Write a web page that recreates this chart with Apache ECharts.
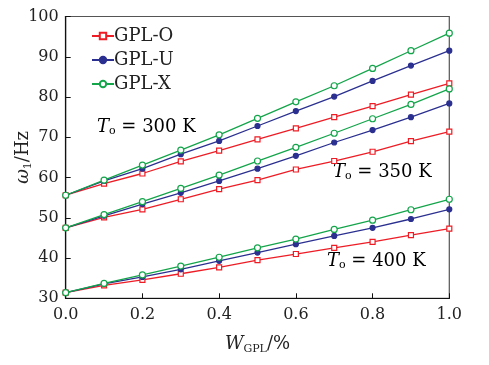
<!DOCTYPE html>
<html><head><meta charset="utf-8">
<script src="https://cdn.jsdelivr.net/npm/echarts@6/dist/echarts.min.js"></script>
<style>html,body{margin:0;padding:0;background:#fff}#c{width:489px;height:365px}</style>
</head><body><div id="c"></div>
<script>
var xValues = [0, 0.1, 0.2, 0.3, 0.4, 0.5, 0.6, 0.7, 0.8, 0.9, 1.0];
var seriesNames = ['GPL-O', 'GPL-U', 'GPL-X'];
// T = 300 K
var o300 = [55.6, 58.5, 61.0, 64.0, 66.7, 69.5, 72.2, 75.0, 77.75, 80.6, 83.4];
var u300 = [55.6, 59.15, 62.2, 65.8, 69.1, 72.8, 76.5, 80.1, 84.0, 87.8, 91.5];
var x300 = [55.6, 59.35, 63.1, 66.8, 70.6, 74.7, 78.8, 82.8, 87.1, 91.5, 95.85];
// T = 350 K
var o350 = [47.5, 50.1, 52.1, 54.6, 57.1, 59.35, 62.0, 64.1, 66.4, 69.05, 71.4];
var u350 = [47.5, 50.5, 53.4, 56.2, 59.15, 62.2, 65.4, 68.7, 71.8, 75.0, 78.4];
var x350 = [47.5, 50.8, 54.0, 57.3, 60.6, 64.1, 67.5, 71.0, 74.6, 78.15, 82.0];
// T = 400 K
var o400 = [31.4, 33.2, 34.6, 36.1, 37.7, 39.5, 41.0, 42.55, 44.0, 45.7, 47.3];
var u400 = [31.4, 33.6, 35.3, 37.2, 39.3, 41.35, 43.45, 45.5, 47.5, 49.7, 52.1];
var x400 = [31.4, 33.7, 35.8, 38.0, 40.2, 42.55, 44.7, 47.1, 49.4, 52.0, 54.6];
var xTicks = [0, 0.2, 0.4, 0.6, 0.8, 1.0];
var yTicks = [30, 40, 50, 60, 70, 80, 90, 100];

var FONT = 'DejaVu Serif';
var styles = {
  'GPL-O': {color: '#ee1c25', symbol: 'rect', size: 5, fill: '#fff'},
  'GPL-U': {color: '#2b3090', symbol: 'circle', size: 5, fill: '#2b3090'},
  'GPL-X': {color: '#14a54b', symbol: 'circle', size: 6, fill: '#fff'}
};
function pairs(arr){ return xValues.map(function(x,i){ return [x, arr[i]]; }); }
function mk(name, arr, showLegend){
  var s = styles[name];
  return {
    name: showLegend ? name : name + ' ',
    type: 'line', data: pairs(arr), symbol: s.symbol, symbolSize: s.size,
    lineStyle: {color: s.color, width: 1.3},
    itemStyle: {color: s.fill, borderColor: s.color, borderWidth: 1.2},
    z: 3
  };
}
var groups = [[o300,u300,x300],[o350,u350,x350],[o400,u400,x400]];
var series = [];
groups.forEach(function(g, gi){
  seriesNames.forEach(function(n, i){ series.push(mk(n, g[i], gi === 0)); });
});

var chart = echarts.init(document.getElementById('c'));
var rich = {
  it: {fontFamily: FONT, fontStyle: 'italic', fontSize: 18, color: '#222'},
  sub: {fontFamily: FONT, fontSize: 11, color: '#222', padding: [9, 0, 0, 0]},
  n: {fontFamily: FONT, fontSize: 18, color: '#222'}
};
chart.setOption({
  animation: false,
  grid: {left: 65.7, right: 39.7, top: 16.5, bottom: 66.7, show: true, borderColor: '#555', borderWidth: 1.2,
    containLabel: false, outerBoundsMode: 'none'},
  legend: {
    data: seriesNames, orient: 'vertical', left: 86, top: 22, itemGap: 6,
    itemWidth: 22, itemHeight: 8,
    textStyle: {fontFamily: FONT, fontSize: 18, color: '#222', padding: [0,0,0,-5]}
  },
  xAxis: {
    type: 'value', min: 0, max: 1, interval: 0.2,
    axisLine: {lineStyle: {color: '#111', width: 1.2}},
    axisTick: {inside: true, length: 5, lineStyle: {color: '#111'}},
    splitLine: {show: false},
    axisLabel: {fontFamily: FONT, fontSize: 16, color: '#222', margin: 9,
      formatter: function(v){ return v.toFixed(1); }},
    name: '{it|W}{sub|GPL}{n|/%}', nameLocation: 'middle', nameGap: 36,
    nameTextStyle: {rich: rich}
  },
  yAxis: {
    type: 'value', min: 30, max: 100, interval: 10,
    axisLine: {show: true, lineStyle: {color: '#111', width: 1.2}},
    axisTick: {show: true, inside: true, length: 5, lineStyle: {color: '#111'}},
    splitLine: {show: false},
    axisLabel: {fontFamily: FONT, fontSize: 16, color: '#222', margin: 7},
    name: '{it|ω}{sub|1}{n|/Hz}', nameLocation: 'middle', nameGap: 32, nameMoveOverlap: false,
    nameTextStyle: {rich: rich}
  },
  graphic: [
    {type: 'text', left: 97, top: 118, style: {rich: rich, text: '{it|T}{sub|o}{n| = 300 K}'}},
    {type: 'text', left: 333, top: 163, style: {rich: rich, text: '{it|T}{sub|o}{n| = 350 K}'}},
    {type: 'text', left: 327, top: 252, style: {rich: rich, text: '{it|T}{sub|o}{n| = 400 K}'}}
  ],
  series: series
});
</script></body></html>
